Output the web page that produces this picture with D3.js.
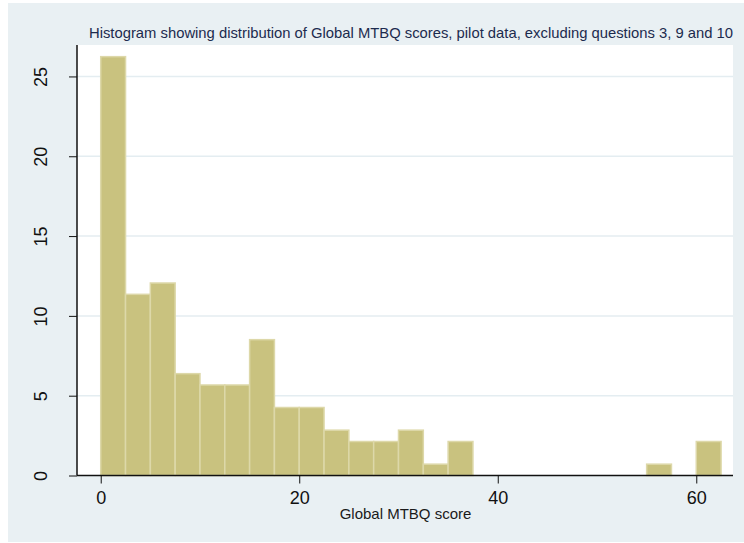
<!DOCTYPE html>
<html lang="en">
<head>
    <meta charset="UTF-8">
    <title>Histogram of Global MTBQ scores</title>
    <style>
        html, body { margin: 0; padding: 0; background: #fff; }
        svg { display: block; font-family: "Liberation Sans", Arial, sans-serif; }
        .grid line { stroke: #e4edf1; stroke-width: 1.5px; }
        .bar { fill: #c9c27f; stroke: #ddd8a9; stroke-width: 1.5px; }
        .axis path, .axis line { stroke: #111; }
        .axis text { fill: #111; font-size: 18px; }
    </style>
    <script src="https://d3js.org/d3.v7.min.js"></script>
</head>
<body>
    <div id="chart"></div>
    <script>
        // bin edges (start of each 2.5-wide bin) and percent in each bin
        const binStart = [0, 2.5, 5, 7.5, 10, 12.5, 15, 17.5, 20, 22.5, 25, 27.5, 30, 32.5,
                          35, 37.5, 40, 42.5, 45, 47.5, 50, 52.5, 55, 57.5, 60];
        const binWidth = 2.5;
        const percent = [26.24, 11.35, 12.06, 6.38, 5.67, 5.67, 8.51, 4.26, 4.26, 2.84, 2.13, 2.13, 2.84, 0.71,
                         2.13, 0, 0, 0, 0, 0, 0, 0, 0.71, 0, 2.13];
        const xTicks = [0, 20, 40, 60];
        const yTicks = [0, 5, 10, 15, 20, 25];
        const titleText = "Histogram showing distribution of Global MTBQ scores, pilot data, excluding questions 3, 9 and 10";
        const xLabel = "Global MTBQ score";

        const width = 744, height = 543;
        const plot = { left: 77, right: 733, top: 45, bottom: 475.5 };

        const svg = d3.select("#chart").append("svg")
            .attr("width", width)
            .attr("height", height);

        // outer graph region
        svg.append("rect")
            .attr("x", 8).attr("y", 3)
            .attr("width", width - 8).attr("height", height - 4)
            .attr("fill", "#e9f0f3");

        // plot region
        svg.append("rect")
            .attr("x", plot.left).attr("y", plot.top)
            .attr("width", plot.right - plot.left).attr("height", plot.bottom - plot.top)
            .attr("fill", "#fff");

        const x = d3.scaleLinear().domain([-2.39, 63.7]).range([plot.left, plot.right]);
        const y = d3.scaleLinear().domain([0, 26.97]).range([plot.bottom, plot.top]);

        // horizontal grid lines
        svg.append("g").attr("class", "grid")
            .selectAll("line")
            .data(yTicks.filter(d => d > 0))
            .enter().append("line")
            .attr("x1", plot.left).attr("x2", plot.right)
            .attr("y1", d => y(d)).attr("y2", d => y(d));

        // bars
        const bins = binStart.map((s, i) => ({ x0: s, x1: s + binWidth, v: percent[i] }));
        svg.append("g")
            .selectAll("rect")
            .data(bins.filter(d => d.v > 0))
            .enter().append("rect")
            .attr("class", "bar")
            .attr("x", d => x(d.x0))
            .attr("width", d => x(d.x1) - x(d.x0))
            .attr("y", d => y(d.v))
            .attr("height", d => y(0) - y(d.v));

        // axes
        const xAxis = svg.append("g").attr("class", "axis")
            .attr("transform", `translate(0,${plot.bottom})`)
            .call(d3.axisBottom(x).tickValues(xTicks).tickSize(8).tickPadding(8).tickFormat(d3.format("d")));
        xAxis.select(".domain").attr("d", `M${plot.left},0H${plot.right}`).attr("stroke-width", 1.5);

        const yAxis = svg.append("g").attr("class", "axis")
            .attr("transform", `translate(${plot.left},0)`)
            .call(d3.axisLeft(y).tickValues(yTicks).tickSize(8).tickFormat(d3.format("d")));
        yAxis.select(".domain").attr("d", `M0,${plot.top}V${plot.bottom}`).attr("stroke-width", 1.5);
        yAxis.selectAll(".tick text")
            .attr("x", null).attr("dy", null)
            .attr("text-anchor", "middle")
            .attr("transform", "translate(-30,0) rotate(-90)")
            .attr("y", 0);

        // title
        svg.append("text")
            .attr("x", 89).attr("y", 38)
            .attr("fill", "#1c2b4e")
            .style("font-size", "14.8px")
            .text(titleText);

        // x axis label
        svg.append("text")
            .attr("x", 405.5).attr("y", 519)
            .attr("text-anchor", "middle")
            .attr("fill", "#1a1a1a")
            .style("font-size", "15px")
            .text(xLabel);
    </script>
</body>
</html>
